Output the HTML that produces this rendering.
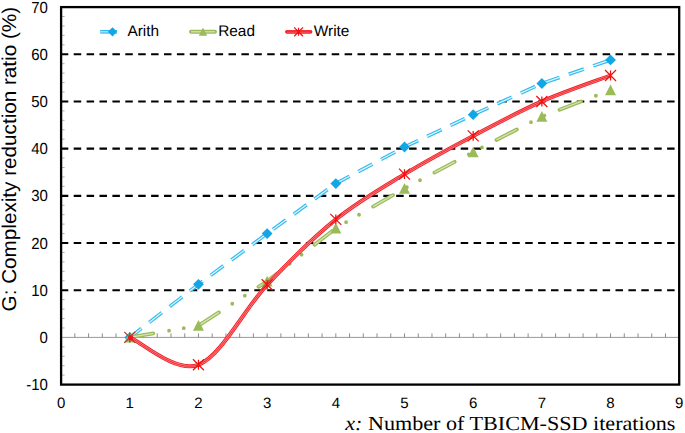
<!DOCTYPE html>
<html><head><meta charset="utf-8"><style>
html,body{margin:0;padding:0;background:#fff;}
svg{display:block;}
text{text-rendering:geometricPrecision;}
</style></head><body>
<svg width="685" height="433" viewBox="0 0 685 433">

<line x1="62.1" y1="375.15" x2="64.6" y2="375.15" stroke="#9a9a9a" stroke-width="0.8"/>
<line x1="62.1" y1="365.71" x2="64.6" y2="365.71" stroke="#9a9a9a" stroke-width="0.8"/>
<line x1="62.1" y1="356.28" x2="64.6" y2="356.28" stroke="#9a9a9a" stroke-width="0.8"/>
<line x1="62.1" y1="346.84" x2="64.6" y2="346.84" stroke="#9a9a9a" stroke-width="0.8"/>
<line x1="62.1" y1="327.96" x2="64.6" y2="327.96" stroke="#9a9a9a" stroke-width="0.8"/>
<line x1="62.1" y1="318.52" x2="64.6" y2="318.52" stroke="#9a9a9a" stroke-width="0.8"/>
<line x1="62.1" y1="309.09" x2="64.6" y2="309.09" stroke="#9a9a9a" stroke-width="0.8"/>
<line x1="62.1" y1="299.65" x2="64.6" y2="299.65" stroke="#9a9a9a" stroke-width="0.8"/>
<line x1="62.1" y1="280.77" x2="64.6" y2="280.77" stroke="#9a9a9a" stroke-width="0.8"/>
<line x1="62.1" y1="271.33" x2="64.6" y2="271.33" stroke="#9a9a9a" stroke-width="0.8"/>
<line x1="62.1" y1="261.90" x2="64.6" y2="261.90" stroke="#9a9a9a" stroke-width="0.8"/>
<line x1="62.1" y1="252.46" x2="64.6" y2="252.46" stroke="#9a9a9a" stroke-width="0.8"/>
<line x1="62.1" y1="233.58" x2="64.6" y2="233.58" stroke="#9a9a9a" stroke-width="0.8"/>
<line x1="62.1" y1="224.14" x2="64.6" y2="224.14" stroke="#9a9a9a" stroke-width="0.8"/>
<line x1="62.1" y1="214.71" x2="64.6" y2="214.71" stroke="#9a9a9a" stroke-width="0.8"/>
<line x1="62.1" y1="205.27" x2="64.6" y2="205.27" stroke="#9a9a9a" stroke-width="0.8"/>
<line x1="62.1" y1="186.39" x2="64.6" y2="186.39" stroke="#9a9a9a" stroke-width="0.8"/>
<line x1="62.1" y1="176.95" x2="64.6" y2="176.95" stroke="#9a9a9a" stroke-width="0.8"/>
<line x1="62.1" y1="167.52" x2="64.6" y2="167.52" stroke="#9a9a9a" stroke-width="0.8"/>
<line x1="62.1" y1="158.08" x2="64.6" y2="158.08" stroke="#9a9a9a" stroke-width="0.8"/>
<line x1="62.1" y1="139.20" x2="64.6" y2="139.20" stroke="#9a9a9a" stroke-width="0.8"/>
<line x1="62.1" y1="129.76" x2="64.6" y2="129.76" stroke="#9a9a9a" stroke-width="0.8"/>
<line x1="62.1" y1="120.33" x2="64.6" y2="120.33" stroke="#9a9a9a" stroke-width="0.8"/>
<line x1="62.1" y1="110.89" x2="64.6" y2="110.89" stroke="#9a9a9a" stroke-width="0.8"/>
<line x1="62.1" y1="92.01" x2="64.6" y2="92.01" stroke="#9a9a9a" stroke-width="0.8"/>
<line x1="62.1" y1="82.57" x2="64.6" y2="82.57" stroke="#9a9a9a" stroke-width="0.8"/>
<line x1="62.1" y1="73.14" x2="64.6" y2="73.14" stroke="#9a9a9a" stroke-width="0.8"/>
<line x1="62.1" y1="63.70" x2="64.6" y2="63.70" stroke="#9a9a9a" stroke-width="0.8"/>
<line x1="62.1" y1="44.82" x2="64.6" y2="44.82" stroke="#9a9a9a" stroke-width="0.8"/>
<line x1="62.1" y1="35.38" x2="64.6" y2="35.38" stroke="#9a9a9a" stroke-width="0.8"/>
<line x1="62.1" y1="25.95" x2="64.6" y2="25.95" stroke="#9a9a9a" stroke-width="0.8"/>
<line x1="62.1" y1="16.51" x2="64.6" y2="16.51" stroke="#9a9a9a" stroke-width="0.8"/>
<line x1="60.800000000000004" y1="290.21" x2="679.2" y2="290.21" stroke="#000" stroke-width="2.1" stroke-dasharray="7.5 5.4"/>
<line x1="60.800000000000004" y1="243.02" x2="679.2" y2="243.02" stroke="#000" stroke-width="2.1" stroke-dasharray="7.5 5.4"/>
<line x1="60.800000000000004" y1="195.83" x2="679.2" y2="195.83" stroke="#000" stroke-width="2.1" stroke-dasharray="7.5 5.4"/>
<line x1="60.800000000000004" y1="148.64" x2="679.2" y2="148.64" stroke="#000" stroke-width="2.1" stroke-dasharray="7.5 5.4"/>
<line x1="60.800000000000004" y1="101.45" x2="679.2" y2="101.45" stroke="#000" stroke-width="2.1" stroke-dasharray="7.5 5.4"/>
<line x1="60.800000000000004" y1="54.26" x2="679.2" y2="54.26" stroke="#000" stroke-width="2.1" stroke-dasharray="7.5 5.4"/>
<line x1="61.1" y1="337.40" x2="679.2" y2="337.40" stroke="#9a9a9a" stroke-width="1"/>
<line x1="74.84" y1="337.40" x2="74.84" y2="333.40" stroke="#808080" stroke-width="0.9"/>
<line x1="88.57" y1="337.40" x2="88.57" y2="333.40" stroke="#808080" stroke-width="0.9"/>
<line x1="102.31" y1="337.40" x2="102.31" y2="333.40" stroke="#808080" stroke-width="0.9"/>
<line x1="116.04" y1="337.40" x2="116.04" y2="333.40" stroke="#808080" stroke-width="0.9"/>
<line x1="129.78" y1="337.40" x2="129.78" y2="333.40" stroke="#808080" stroke-width="0.9"/>
<line x1="143.52" y1="337.40" x2="143.52" y2="333.40" stroke="#808080" stroke-width="0.9"/>
<line x1="157.25" y1="337.40" x2="157.25" y2="333.40" stroke="#808080" stroke-width="0.9"/>
<line x1="170.99" y1="337.40" x2="170.99" y2="333.40" stroke="#808080" stroke-width="0.9"/>
<line x1="184.72" y1="337.40" x2="184.72" y2="333.40" stroke="#808080" stroke-width="0.9"/>
<line x1="198.46" y1="337.40" x2="198.46" y2="333.40" stroke="#808080" stroke-width="0.9"/>
<line x1="212.20" y1="337.40" x2="212.20" y2="333.40" stroke="#808080" stroke-width="0.9"/>
<line x1="225.93" y1="337.40" x2="225.93" y2="333.40" stroke="#808080" stroke-width="0.9"/>
<line x1="239.67" y1="337.40" x2="239.67" y2="333.40" stroke="#808080" stroke-width="0.9"/>
<line x1="253.40" y1="337.40" x2="253.40" y2="333.40" stroke="#808080" stroke-width="0.9"/>
<line x1="267.14" y1="337.40" x2="267.14" y2="333.40" stroke="#808080" stroke-width="0.9"/>
<line x1="280.88" y1="337.40" x2="280.88" y2="333.40" stroke="#808080" stroke-width="0.9"/>
<line x1="294.61" y1="337.40" x2="294.61" y2="333.40" stroke="#808080" stroke-width="0.9"/>
<line x1="308.35" y1="337.40" x2="308.35" y2="333.40" stroke="#808080" stroke-width="0.9"/>
<line x1="322.08" y1="337.40" x2="322.08" y2="333.40" stroke="#808080" stroke-width="0.9"/>
<line x1="335.82" y1="337.40" x2="335.82" y2="333.40" stroke="#808080" stroke-width="0.9"/>
<line x1="349.56" y1="337.40" x2="349.56" y2="333.40" stroke="#808080" stroke-width="0.9"/>
<line x1="363.29" y1="337.40" x2="363.29" y2="333.40" stroke="#808080" stroke-width="0.9"/>
<line x1="377.03" y1="337.40" x2="377.03" y2="333.40" stroke="#808080" stroke-width="0.9"/>
<line x1="390.76" y1="337.40" x2="390.76" y2="333.40" stroke="#808080" stroke-width="0.9"/>
<line x1="404.50" y1="337.40" x2="404.50" y2="333.40" stroke="#808080" stroke-width="0.9"/>
<line x1="418.24" y1="337.40" x2="418.24" y2="333.40" stroke="#808080" stroke-width="0.9"/>
<line x1="431.97" y1="337.40" x2="431.97" y2="333.40" stroke="#808080" stroke-width="0.9"/>
<line x1="445.71" y1="337.40" x2="445.71" y2="333.40" stroke="#808080" stroke-width="0.9"/>
<line x1="459.44" y1="337.40" x2="459.44" y2="333.40" stroke="#808080" stroke-width="0.9"/>
<line x1="473.18" y1="337.40" x2="473.18" y2="333.40" stroke="#808080" stroke-width="0.9"/>
<line x1="486.92" y1="337.40" x2="486.92" y2="333.40" stroke="#808080" stroke-width="0.9"/>
<line x1="500.65" y1="337.40" x2="500.65" y2="333.40" stroke="#808080" stroke-width="0.9"/>
<line x1="514.39" y1="337.40" x2="514.39" y2="333.40" stroke="#808080" stroke-width="0.9"/>
<line x1="528.12" y1="337.40" x2="528.12" y2="333.40" stroke="#808080" stroke-width="0.9"/>
<line x1="541.86" y1="337.40" x2="541.86" y2="333.40" stroke="#808080" stroke-width="0.9"/>
<line x1="555.60" y1="337.40" x2="555.60" y2="333.40" stroke="#808080" stroke-width="0.9"/>
<line x1="569.33" y1="337.40" x2="569.33" y2="333.40" stroke="#808080" stroke-width="0.9"/>
<line x1="583.07" y1="337.40" x2="583.07" y2="333.40" stroke="#808080" stroke-width="0.9"/>
<line x1="596.80" y1="337.40" x2="596.80" y2="333.40" stroke="#808080" stroke-width="0.9"/>
<line x1="610.54" y1="337.40" x2="610.54" y2="333.40" stroke="#808080" stroke-width="0.9"/>
<line x1="624.28" y1="337.40" x2="624.28" y2="333.40" stroke="#808080" stroke-width="0.9"/>
<line x1="638.01" y1="337.40" x2="638.01" y2="333.40" stroke="#808080" stroke-width="0.9"/>
<line x1="651.75" y1="337.40" x2="651.75" y2="333.40" stroke="#808080" stroke-width="0.9"/>
<line x1="665.48" y1="337.40" x2="665.48" y2="333.40" stroke="#808080" stroke-width="0.9"/>
<rect x="61.1" y="7.1" width="618.1" height="377.5" fill="none" stroke="#000" stroke-width="2.3"/>
<path d="M129.78,337.40 L198.46,284.31 L267.14,233.58 L335.82,183.56 L404.50,146.99 L473.18,114.66 L541.86,83.52 L610.54,59.92" fill="none" stroke="#33bbf0" stroke-width="3.6" stroke-dasharray="16.02 9.78" stroke-dashoffset="1.28"/>
<path d="M129.78,337.40 L198.46,284.31 L267.14,233.58 L335.82,183.56 L404.50,146.99 L473.18,114.66 L541.86,83.52 L610.54,59.92" fill="none" stroke="#dff5fd" stroke-width="1.25" stroke-dasharray="16.02 9.78" stroke-dashoffset="1.28"/>
<path d="M129.78,332.00 L135.18,337.40 L129.78,342.80 L124.38,337.40 Z" fill="#12a6e6"/>
<path d="M198.46,278.91 L203.86,284.31 L198.46,289.71 L193.06,284.31 Z" fill="#12a6e6"/>
<path d="M267.14,228.18 L272.54,233.58 L267.14,238.98 L261.74,233.58 Z" fill="#12a6e6"/>
<path d="M335.82,178.16 L341.22,183.56 L335.82,188.96 L330.42,183.56 Z" fill="#12a6e6"/>
<path d="M404.50,141.59 L409.90,146.99 L404.50,152.39 L399.10,146.99 Z" fill="#12a6e6"/>
<path d="M473.18,109.26 L478.58,114.66 L473.18,120.06 L467.78,114.66 Z" fill="#12a6e6"/>
<path d="M541.86,78.12 L547.26,83.52 L541.86,88.92 L536.46,83.52 Z" fill="#12a6e6"/>
<path d="M610.54,54.52 L615.94,59.92 L610.54,65.32 L605.14,59.92 Z" fill="#12a6e6"/>
<path d="M129.78,337.40 L198.46,325.60 L267.14,281.24 L335.82,228.16 L404.50,188.52 L473.18,151.94 L541.86,116.55 L610.54,90.12" fill="none" stroke="#9bbb59" stroke-width="3.8" stroke-dasharray="22.9 15.96 0 14.91 0 16.32" stroke-dashoffset="-1" stroke-linecap="round"/>
<path d="M129.78,337.40 L198.46,325.60 L267.14,281.24 L335.82,228.16 L404.50,188.52 L473.18,151.94 L541.86,116.55 L610.54,90.12" fill="none" stroke="#d3e4b0" stroke-width="1.3" stroke-dasharray="22.9 15.96 0 14.91 0 16.32" stroke-dashoffset="-1" stroke-linecap="butt"/>
<path d="M129.78,331.90 L135.28,342.62 L124.28,342.62 Z" fill="#9bbb59"/>
<path d="M198.46,320.10 L203.96,330.83 L192.96,330.83 Z" fill="#9bbb59"/>
<path d="M267.14,275.74 L272.64,286.47 L261.64,286.47 Z" fill="#9bbb59"/>
<path d="M335.82,222.66 L341.32,233.38 L330.32,233.38 Z" fill="#9bbb59"/>
<path d="M404.50,183.02 L410.00,193.74 L399.00,193.74 Z" fill="#9bbb59"/>
<path d="M473.18,146.44 L478.68,157.17 L467.68,157.17 Z" fill="#9bbb59"/>
<path d="M541.86,111.05 L547.36,121.78 L536.36,121.78 Z" fill="#9bbb59"/>
<path d="M610.54,84.62 L616.04,95.35 L605.04,95.35 Z" fill="#9bbb59"/>
<path d="M129.78,337.40 C141.23,341.96 175.57,373.54 198.46,364.77 C221.35,356.00 244.25,309.01 267.14,284.78 C290.03,260.56 312.93,237.87 335.82,219.42 C358.71,200.98 381.61,188.04 404.50,174.12 C427.39,160.20 450.29,148.01 473.18,135.90 C496.07,123.79 518.97,111.52 541.86,101.45 C564.75,91.38 599.09,79.82 610.54,75.50" fill="none" stroke="#f01c24" stroke-width="4.0"/>
<path d="M129.78,337.40 C141.23,341.96 175.57,373.54 198.46,364.77 C221.35,356.00 244.25,309.01 267.14,284.78 C290.03,260.56 312.93,237.87 335.82,219.42 C358.71,200.98 381.61,188.04 404.50,174.12 C427.39,160.20 450.29,148.01 473.18,135.90 C496.07,123.79 518.97,111.52 541.86,101.45 C564.75,91.38 599.09,79.82 610.54,75.50" fill="none" stroke="#ffa8a8" stroke-width="2.3" opacity="0.72"/>
<path d="M129.78,337.40 C141.23,341.96 175.57,373.54 198.46,364.77 C221.35,356.00 244.25,309.01 267.14,284.78 C290.03,260.56 312.93,237.87 335.82,219.42 C358.71,200.98 381.61,188.04 404.50,174.12 C427.39,160.20 450.29,148.01 473.18,135.90 C496.07,123.79 518.97,111.52 541.86,101.45 C564.75,91.38 599.09,79.82 610.54,75.50" fill="none" stroke="#f01c24" stroke-width="0.85"/>
<path d="M124.28,331.90 L135.28,342.90 M135.28,331.90 L124.28,342.90 M129.78,332.45 L129.78,342.35" stroke="#a8383a" stroke-width="1.25" fill="none"/>
<path d="M192.96,359.27 L203.96,370.27 M203.96,359.27 L192.96,370.27 M198.46,359.82 L198.46,369.72" stroke="#f01010" stroke-width="1.25" fill="none"/>
<path d="M261.64,279.28 L272.64,290.28 M272.64,279.28 L261.64,290.28 M267.14,279.83 L267.14,289.73" stroke="#f01010" stroke-width="1.25" fill="none"/>
<path d="M330.32,213.92 L341.32,224.92 M341.32,213.92 L330.32,224.92 M335.82,214.47 L335.82,224.37" stroke="#f01010" stroke-width="1.25" fill="none"/>
<path d="M399.00,168.62 L410.00,179.62 M410.00,168.62 L399.00,179.62 M404.50,169.17 L404.50,179.07" stroke="#f01010" stroke-width="1.25" fill="none"/>
<path d="M467.68,130.40 L478.68,141.40 M478.68,130.40 L467.68,141.40 M473.18,130.95 L473.18,140.85" stroke="#f01010" stroke-width="1.25" fill="none"/>
<path d="M536.36,95.95 L547.36,106.95 M547.36,95.95 L536.36,106.95 M541.86,96.50 L541.86,106.40" stroke="#f01010" stroke-width="1.25" fill="none"/>
<path d="M605.04,70.00 L616.04,81.00 M616.04,70.00 L605.04,81.00 M610.54,70.55 L610.54,80.45" stroke="#f01010" stroke-width="1.25" fill="none"/>
<circle cx="130.58" cy="337.80" r="2.6" fill="#f4141c"/>
<line x1="100.2" y1="31.8" x2="117" y2="31.8" stroke="#33bbf0" stroke-width="3.7"/>
<line x1="100.2" y1="31.8" x2="117" y2="31.8" stroke="#bdeafb" stroke-width="1.2"/>
<path d="M112.50,27.20 L117.10,31.80 L112.50,36.40 L107.90,31.80 Z" fill="#12a6e6"/>
<text x="127.4" y="36.4" font-family='"Liberation Sans", sans-serif' font-size="15.4" fill="#000">Arith</text>
<line x1="191" y1="31.8" x2="215" y2="31.8" stroke="#9bbb59" stroke-width="4" stroke-linecap="round"/>
<line x1="191" y1="31.8" x2="215" y2="31.8" stroke="#d3e4b0" stroke-width="1.3"/>
<path d="M203.00,27.60 L207.20,35.79 L198.80,35.79 Z" fill="#9bbb59"/>
<text x="218.2" y="36.4" font-family='"Liberation Sans", sans-serif' font-size="15.4" fill="#000">Read</text>
<line x1="287" y1="31.8" x2="310.5" y2="31.8" stroke="#f01c24" stroke-width="3.8" stroke-linecap="round"/>
<line x1="287" y1="31.8" x2="310.5" y2="31.8" stroke="#ff9a9a" stroke-width="2.2" opacity="0.55"/>
<line x1="287" y1="31.8" x2="310.5" y2="31.8" stroke="#f01c24" stroke-width="1"/>
<path d="M294.20,27.40 L303.00,36.20 M303.00,27.40 L294.20,36.20 M298.60,27.84 L298.60,35.76" stroke="#f01010" stroke-width="1.25" fill="none"/>
<text x="313.8" y="36.4" font-family='"Liberation Sans", sans-serif' font-size="15.4" fill="#000">Write</text>
<text transform="translate(47.9,390.09) scale(1,1.07)" text-anchor="end" font-family='"Liberation Sans", sans-serif' font-size="15" fill="#000">-10</text>
<text transform="translate(47.9,342.90) scale(1,1.07)" text-anchor="end" font-family='"Liberation Sans", sans-serif' font-size="15" fill="#000">0</text>
<text transform="translate(47.9,295.71) scale(1,1.07)" text-anchor="end" font-family='"Liberation Sans", sans-serif' font-size="15" fill="#000">10</text>
<text transform="translate(47.9,248.52) scale(1,1.07)" text-anchor="end" font-family='"Liberation Sans", sans-serif' font-size="15" fill="#000">20</text>
<text transform="translate(47.9,201.33) scale(1,1.07)" text-anchor="end" font-family='"Liberation Sans", sans-serif' font-size="15" fill="#000">30</text>
<text transform="translate(47.9,154.14) scale(1,1.07)" text-anchor="end" font-family='"Liberation Sans", sans-serif' font-size="15" fill="#000">40</text>
<text transform="translate(47.9,106.95) scale(1,1.07)" text-anchor="end" font-family='"Liberation Sans", sans-serif' font-size="15" fill="#000">50</text>
<text transform="translate(47.9,59.76) scale(1,1.07)" text-anchor="end" font-family='"Liberation Sans", sans-serif' font-size="15" fill="#000">60</text>
<text transform="translate(47.9,12.57) scale(1,1.07)" text-anchor="end" font-family='"Liberation Sans", sans-serif' font-size="15" fill="#000">70</text>
<text x="61.10" y="407.9" text-anchor="middle" font-family='"Liberation Sans", sans-serif' font-size="15" fill="#000">0</text>
<text x="129.78" y="407.9" text-anchor="middle" font-family='"Liberation Sans", sans-serif' font-size="15" fill="#000">1</text>
<text x="198.46" y="407.9" text-anchor="middle" font-family='"Liberation Sans", sans-serif' font-size="15" fill="#000">2</text>
<text x="267.14" y="407.9" text-anchor="middle" font-family='"Liberation Sans", sans-serif' font-size="15" fill="#000">3</text>
<text x="335.82" y="407.9" text-anchor="middle" font-family='"Liberation Sans", sans-serif' font-size="15" fill="#000">4</text>
<text x="404.50" y="407.9" text-anchor="middle" font-family='"Liberation Sans", sans-serif' font-size="15" fill="#000">5</text>
<text x="473.18" y="407.9" text-anchor="middle" font-family='"Liberation Sans", sans-serif' font-size="15" fill="#000">6</text>
<text x="541.86" y="407.9" text-anchor="middle" font-family='"Liberation Sans", sans-serif' font-size="15" fill="#000">7</text>
<text x="610.54" y="407.9" text-anchor="middle" font-family='"Liberation Sans", sans-serif' font-size="15" fill="#000">8</text>
<text x="679.22" y="407.9" text-anchor="middle" font-family='"Liberation Sans", sans-serif' font-size="15" fill="#000">9</text>
<text x="345.3" y="429.8" textLength="330.1" lengthAdjust="spacingAndGlyphs" font-family='"Liberation Serif", serif' font-size="20" fill="#000"><tspan font-style="italic">x:</tspan> Number of TBICM-SSD iterations</text>
<text transform="translate(16.2,311.4) rotate(-90)" x="0" y="0" textLength="304.5" lengthAdjust="spacingAndGlyphs" font-family='"Liberation Sans", sans-serif' font-size="20" fill="#000">G: Complexity reduction ratio (%)</text>
</svg>
</body></html>
